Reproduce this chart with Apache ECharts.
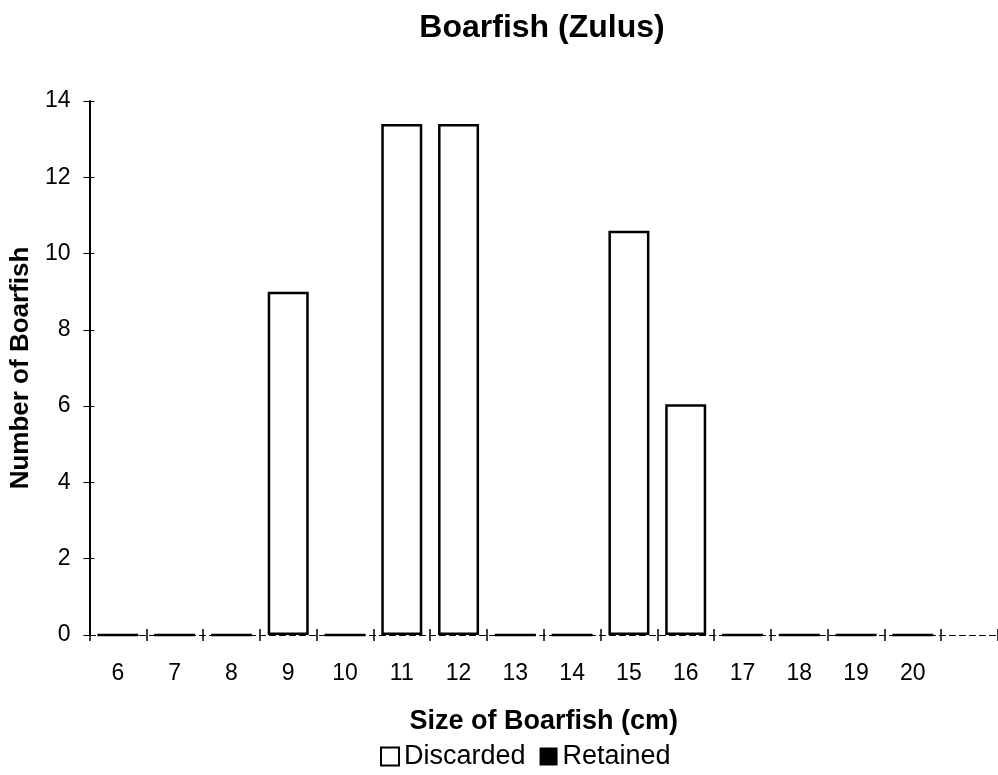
<!DOCTYPE html>
<html>
<head>
<meta charset="utf-8">
<script src="https://cdn.jsdelivr.net/npm/echarts@6/dist/echarts.min.js"></script>
<style>
  html, body { margin: 0; padding: 0; background: #fff; }
  #chart { width: 998px; height: 775px; }
</style>
</head>
<body>
<div id="chart"></div>
<script>
// Size classes (cm) and counts per class
const sizes = ['6', '7', '8', '9', '10', '11', '12', '13', '14', '15', '16', '17', '18', '19', '20'];
const discarded = [0, 0, 0, 9, 0, 13.4, 13.4, 0, 0, 10.6, 6.05, 0, 0, 0, 0];
const retained = [0, 0, 0, 0, 0, 0, 0, 0, 0, 0, 0, 0, 0, 0, 0];
const yTicks = { min: 0, max: 14, interval: 2 };

const FONT = '"Liberation Sans", Arial, Helvetica, sans-serif';
const cats = sizes.concat(['']); // trailing empty slot after 20

const chart = echarts.init(document.getElementById('chart'), null, { renderer: 'canvas' });

chart.setOption({
  backgroundColor: '#fff',
  animation: false,
  title: {
    text: 'Boarfish (Zulus)',
    left: 537, top: 7, textAlign: 'center',
    textStyle: { fontFamily: FONT, fontSize: 32, fontWeight: 'bold', color: '#000' }
  },
  legend: {
    bottom: 0, left: 375,
    itemWidth: 18, itemHeight: 18, itemGap: 14,
    icon: 'rect',
    textStyle: { fontFamily: FONT, fontSize: 27, color: '#000', padding: [0, 0, 0, 0] },
    data: [
      { name: 'Discarded', itemStyle: { color: '#fff', borderColor: '#000', borderWidth: 2 } },
      { name: 'Retained', itemStyle: { color: '#000' } }
    ]
  },
  grid: { left: 81, right: 0, top: 101, bottom: 140, containLabel: false },
  xAxis: [
    {
      type: 'category', data: cats,
      name: 'Size of Boarfish (cm)', nameLocation: 'middle', nameGap: 73,
      nameTextStyle: { fontFamily: FONT, fontSize: 27, fontWeight: 'bold', color: '#000' },
      axisLine: { lineStyle: { color: '#000', width: 1, type: [6, 4] } },
      axisTick: { show: true, length: 6, lineStyle: { color: '#000', width: 1.5 } },
      axisLabel: { fontFamily: FONT, fontSize: 23, color: '#000', margin: 27 }
    },
    {
      type: 'category', data: cats, position: 'bottom',
      axisLine: { show: false },
      axisTick: { show: true, inside: true, length: 6, lineStyle: { color: '#000', width: 1.5 } },
      axisLabel: { show: false }
    }
  ],
  yAxis: [
    {
      type: 'value', min: yTicks.min, max: yTicks.max, interval: yTicks.interval,
      name: 'Number of Boarfish', nameLocation: 'middle', nameGap: 45, nameRotate: 90,
      nameTextStyle: { fontFamily: FONT, fontSize: 26, fontWeight: 'bold', color: '#000' },
      axisLine: { show: true, lineStyle: { color: '#000', width: 2 } },
      axisTick: { show: true, length: 6, lineStyle: { color: '#000', width: 1 } },
      axisLabel: { fontFamily: FONT, fontSize: 23, color: '#000', margin: 19 },
      splitLine: { show: false }
    },
    {
      type: 'value', min: yTicks.min, max: yTicks.max, interval: yTicks.interval, position: 'left',
      axisLine: { show: false },
      axisTick: { show: true, inside: true, length: 5, lineStyle: { color: '#000', width: 1 } },
      axisLabel: { show: false },
      splitLine: { show: false }
    }
  ],
  series: [
    {
      name: 'Discarded', type: 'bar', stack: 'fish', data: discarded,
      barWidth: 41,
      itemStyle: { color: '#fff', borderColor: '#000', borderWidth: 2.5 }
    },
    {
      name: 'Retained', type: 'bar', stack: 'fish', data: retained,
      barWidth: 41,
      itemStyle: { color: '#000', borderWidth: 0 }
    }
  ]
});
</script>
</body>
</html>
